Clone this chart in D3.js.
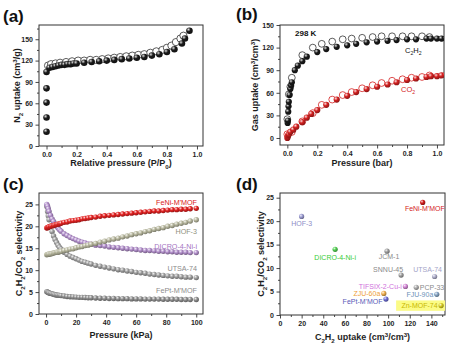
<!DOCTYPE html>
<html><head><meta charset="utf-8">
<script src="https://cdn.jsdelivr.net/npm/d3@7"></script>
<style>body{margin:0;background:#fff}svg{display:block;font-family:"Liberation Sans",Arial,sans-serif}</style>
</head><body><svg id="chart" width="456" height="350"></svg>
<script>
// ---------- DATA ----------
// (a) N2 isotherm
const aAdsP = [0,0,0,0,0,0.02,0.04,0.06,0.08,0.10,0.12,0.14,0.16,0.18,0.20,0.25,0.30,0.35,0.40,0.45,0.50,0.55,0.60,0.65,0.70,0.75,0.80,0.85,0.90,0.92,0.95];
const aAdsQ = [20,40,61,81,104,110,111,112,113,114,114,115,115,116,116,117,118,119,120,121,122,123,124,125,127,129,132,136,144,151,162];
const aDesP = [0.01,0.03,0.06,0.09,0.13,0.17,0.21,0.25,0.29,0.33,0.37,0.41,0.45,0.49,0.53,0.57,0.61,0.65,0.69,0.73,0.77,0.80,0.83,0.86,0.89,0.91];
const aDesQ = [113,115,116,117,118,119,120,120,121,121,122,123,124,125,126,127,128,129,131,133,135,138,141,146,151,155];
const aXTicks = [0,0.2,0.4,0.6,0.8,1.0];
const aYTicks = [0,30,60,90,120,150];

// (b) C2H2 / CO2 isotherms at 298 K
const bC2AdsP = [0.002,0.004,0.006,0.008,0.010,0.015,0.020,0.025,0.030,0.05,0.07,0.10,0.13,0.20,0.26,0.33,0.40,0.46,0.53,0.60,0.67,0.73,0.80,0.86,0.93,0.96,1.00,1.03,1.06];
const bC2AdsQ = [20,23,35,42,48,57,65,70,74,90,96,102,108,114,118,121,123,125,127,128,129,130,131,131,132,132,132,132,132];
const bC2DesP = [0.0,0.01,0.02,0.03,0.10,0.17,0.23,0.30,0.37,0.43,0.50,0.57,0.63,0.70,0.77,0.83,0.90,0.95];
const bC2DesQ = [25,58,68,80,110,120,125,128,131,132,133,134,135,135,135,135,135,134];
const bCO2AdsP = [0.0,0.003,0.006,0.010,0.020,0.040,0.060,0.10,0.13,0.16,0.20,0.26,0.33,0.40,0.46,0.53,0.60,0.67,0.73,0.80,0.86,0.93,0.96,1.00,1.03,1.06];
const bCO2AdsQ = [0,2,4,5,8,11,15,21,27,32,37,44,51,56,61,65,68,71,74,77,79,81,82,82,83,84];
const bCO2DesP = [0.0,0.03,0.10,0.17,0.23,0.30,0.37,0.43,0.50,0.57,0.63,0.70,0.77,0.83,0.90,0.95];
const bCO2DesQ = [5,8,22,33,44,51,57,61,66,70,73,76,78,80,81,83];
const bXTicks = [0,0.2,0.4,0.6,0.8,1.0];
const bYTicks = [0,30,60,90,120,150];

// (c) IAST selectivity vs pressure
const cPressure = [0.5,1,1.5,2,3,4,5,6,7,8,9,10,12,14,16,18,20,22,24,26,28,30,33,36,39,42,45,48,51,54,57,60,63,66,69,72,75,78,81,84,87,90,93,96,100];
const cFeNi  = [19.6,19.7,19.8,19.9,20.0,20.1,20.2,20.3,20.4,20.5,20.6,20.7,20.9,21.0,21.2,21.3,21.4,21.5,21.7,21.8,21.9,22.0,22.1,22.3,22.4,22.5,22.6,22.7,22.8,22.9,23.0,23.1,23.2,23.3,23.4,23.5,23.5,23.6,23.7,23.8,23.8,23.9,23.9,24.0,24.1];
const cHOF3  = [13.5,13.6,13.6,13.7,13.7,13.8,13.9,14.0,14.1,14.1,14.2,14.3,14.5,14.6,14.8,14.9,15.1,15.3,15.4,15.6,15.7,15.9,16.1,16.4,16.6,16.9,17.1,17.3,17.6,17.8,18.1,18.3,18.5,18.8,19.0,19.3,19.5,19.7,20.0,20.2,20.5,20.7,20.9,21.2,21.5];
const cDICRO = [25.0,24.6,24.0,23.4,22.5,21.7,21.1,20.5,20.0,19.6,19.2,18.9,18.3,17.9,17.5,17.2,16.9,16.6,16.4,16.2,16.0,15.9,15.7,15.6,15.5,15.3,15.2,15.1,15.0,14.9,14.8,14.7,14.6,14.5,14.5,14.4,14.3,14.3,14.2,14.2,14.1,14.1,14.1,14.0,14.0];
const cUTSA  = [24.5,23.4,22.4,21.5,20.0,18.8,17.8,17.0,16.3,15.7,15.2,14.8,14.1,13.6,13.2,12.9,12.6,12.3,12.0,11.8,11.6,11.4,11.1,10.9,10.7,10.5,10.3,10.1,10.0,9.8,9.7,9.5,9.4,9.3,9.1,9.0,8.9,8.8,8.7,8.6,8.6,8.5,8.4,8.4,8.3];
const cFePt  = [5.1,5.0,4.9,4.8,4.7,4.6,4.5,4.4,4.35,4.3,4.25,4.2,4.1,4.0,3.95,3.9,3.85,3.8,3.8,3.75,3.7,3.7,3.65,3.6,3.6,3.55,3.55,3.5,3.5,3.5,3.45,3.45,3.45,3.4,3.4,3.4,3.4,3.35,3.35,3.35,3.35,3.3,3.3,3.3,3.3];
const cSeriesNames = ["UTSA-74","FePt-M'MOF","DICRO-4-Ni-i","HOF-3","FeNi-M'MOF"];
const cXTicks = [0,20,40,60,80,100];
const cYTicks = [0,5,10,15,20,25];

// (d) selectivity vs uptake
const dNames = ["HOF-3","DICRO-4-Ni-i","JCM-1","SNNU-45","UTSA-74","TIFSIX-2-Cu-i","PCP-33","ZJU-60a","FJU-90a","FePt-M'MOF","Zn-MOF-74","FeNi-M'MOF"];
const dUptake = [20,51,99,112,143,116,126,96,145,98,149,132];
const dSelect = [21.0,14.0,13.6,8.5,8.2,6.1,5.9,4.6,4.4,3.4,2.0,24.0];
const dXTicks = [0,20,40,60,80,100,120,140];
const dYTicks = [0,5,10,15,20,25];

// ---------- STYLES ----------
const cColors = {"FeNi-M'MOF":"#e42222","HOF-3":"#b9b9a0","DICRO-4-Ni-i":"#b28fcb","UTSA-74":"#a0a0a0","FePt-M'MOF":"#8e8e8e"};
const cLabel = {"FeNi-M'MOF":{c:"#d82020",y:24.9},"HOF-3":{c:"#8f8f7c",y:18.3},"DICRO-4-Ni-i":{c:"#a474bf",y:14.9},"UTSA-74":{c:"#8c8c8c",y:9.8},"FePt-M'MOF":{c:"#8c8c8c",y:4.8}};
const dStyle = {
 "HOF-3":{c:"#9c9cd2",t:"#8d8dc6",dx:0,dy:10,a:"middle"},
 "DICRO-4-Ni-i":{c:"#52d052",t:"#36cc36",dx:0,dy:11,a:"middle"},
 "JCM-1":{c:"#a0a0a0",t:"#8a8a8a",dx:2,dy:8,a:"middle"},
 "SNNU-45":{c:"#a0a0a0",t:"#8a8a8a",dx:-13,dy:-3.5,a:"middle"},
 "UTSA-74":{c:"#b0b0cc",t:"#a4a4c8",dx:-7,dy:-4.5,a:"middle"},
 "TIFSIX-2-Cu-i":{c:"#d68ad8",t:"#d070dc",dx:-3.5,dy:2.4,a:"end"},
 "PCP-33":{c:"#b0b0b0",t:"#8a8a8a",dx:3.5,dy:2.4,a:"start"},
 "ZJU-60a":{c:"#f0b050",t:"#eea038",dx:-3.5,dy:2.4,a:"end"},
 "FJU-90a":{c:"#86a4c4",t:"#6e92b8",dx:-3.5,dy:2.4,a:"end"},
 "FePt-M'MOF":{c:"#6c6cd6",t:"#5a5ab8",dx:-3.5,dy:4.5,a:"end"},
 "Zn-MOF-74":{c:"#d8cc20",t:"#c8b800",dx:-3.5,dy:2.4,a:"end"},
 "FeNi-M'MOF":{c:"#d41c1c",t:"#d41c1c",dx:22,dy:9,a:"end"}
};

// ---------- DRAWING ----------
const svg = d3.select("#chart");
const defs = svg.append("defs");
const gradCache = {};
function sphere(color){
  if (gradCache[color]) return gradCache[color];
  const id = "g" + Object.keys(gradCache).length;
  const base = d3.color(color);
  const rg = defs.append("radialGradient").attr("id", id).attr("cx","35%").attr("cy","32%").attr("r","70%");
  rg.append("stop").attr("offset","0%").attr("stop-color", d3.interpolateRgb(color,"#fff")(0.85));
  rg.append("stop").attr("offset","45%").attr("stop-color", color);
  rg.append("stop").attr("offset","100%").attr("stop-color", base.darker(1.2).formatHex());
  gradCache[color] = "url(#" + id + ")";
  return gradCache[color];
}

// text with sub/superscripts: each tspan's dy moves from the previous shift to its own
function rich(sel, parts, size){
  let prev = 0;
  parts.forEach(p => {
    const shift = p[1] === "sub" ? size*0.28 : p[1] === "sup" ? -size*0.38 : 0;
    const t = sel.append("tspan").text(p[0]);
    if (shift !== prev) t.attr("dy", shift - prev);
    if (p[1]) t.attr("font-size", size*0.68);
    prev = shift;
  });
}

function panel(o){
  const x = d3.scaleLinear().domain(o.xd).range([o.l, o.r]);
  const y = d3.scaleLinear().domain(o.yd).range([o.b, o.t]);
  const g = svg.append("g");
  const style = s => {
    s.select(".domain").remove();
    s.selectAll("line").attr("stroke","#333").attr("stroke-width",0.9);
    s.selectAll("text").attr("fill","#1e1e1e").attr("font-size",7).attr("font-weight","bold");
  };
  g.append("g").attr("transform",`translate(0,${o.b})`).call(d3.axisBottom(x).tickValues(o.xMinor).tickSize(2).tickFormat("")).call(style);
  g.append("g").attr("transform",`translate(0,${o.b})`).call(d3.axisBottom(x).tickValues(o.xTicks).tickSize(3.5).tickPadding(2.5).tickFormat(o.xFmt)).call(style);
  g.append("g").attr("transform",`translate(${o.l},0)`).call(d3.axisLeft(y).tickValues(o.yMinor).tickSize(2).tickFormat("")).call(style);
  g.append("g").attr("transform",`translate(${o.l},0)`).call(d3.axisLeft(y).tickValues(o.yTicks).tickSize(3.5).tickPadding(2.5).tickFormat(d3.format("d"))).call(style);
  g.selectAll("text").filter(function(){ return this.textContent === ""; }).remove();
  g.append("rect").attr("x",o.l).attr("y",o.t).attr("width",o.r-o.l).attr("height",o.b-o.t)
    .attr("fill","none").attr("stroke","#333").attr("stroke-width",1);
  const xt = svg.append("text").attr("x",(o.l+o.r)/2).attr("y",o.xtY).attr("text-anchor","middle")
    .attr("font-size",9).attr("font-weight","bold").attr("fill","#1e1e1e");
  rich(xt, o.xTitle, 9);
  const yt = svg.append("text").attr("transform",`translate(${o.ytX},${(o.t+o.b)/2}) rotate(-90)`).attr("text-anchor","middle")
    .attr("font-size",9).attr("font-weight","bold").attr("fill","#1e1e1e");
  rich(yt, o.yTitle, 9);
  svg.append("text").attr("x",o.lab[0]).attr("y",o.lab[1]).attr("font-size",17).attr("font-weight","bold").attr("fill","#111").text(o.label);
  const clip = "clip" + o.label.replace(/\W/g,"");
  defs.append("clipPath").attr("id",clip).append("rect").attr("x",o.l).attr("y",o.t).attr("width",o.r-o.l).attr("height",o.b-o.t);
  const plot = svg.append("g").attr("clip-path",`url(#${clip})`);
  return {x, y, plot};
}

function dots(p, xs, ys, color, r, open){
  const g = p.plot.append("g");
  g.selectAll("circle").data(xs.map((v,i)=>[v,ys[i]])).join("circle")
    .attr("cx",d=>p.x(d[0])).attr("cy",d=>p.y(d[1])).attr("r",r)
    .attr("fill", open ? "#fff" : sphere(color))
    .attr("stroke", open ? color : "none").attr("stroke-width", open ? 0.8 : 0);
}

const minor = (a,b,s) => d3.range(a,b+1e-9,s);

// (a)
const pa = panel({l:39,r:203,t:25,b:146,xd:[-0.05,1.04],yd:[0,170],
  xTicks:aXTicks,xMinor:minor(0.1,0.9,0.2),yTicks:aYTicks,yMinor:minor(15,165,30),xFmt:d3.format(".1f"),
  xTitle:[["Relative pressure (P/P"],["0","sub"],[")"]],xtY:166,
  yTitle:[["N"],["2","sub"],[" uptake (cm"],["3","sup"],["/g)"]],ytX:20,label:"(a)",lab:[3,22]});
dots(pa, aDesP, aDesQ, "#333", 3.6, true);
dots(pa, aAdsP, aAdsQ, "#1a1a1a", 3.3, false);

// (b)
const pb = panel({l:280,r:444,t:25,b:145,xd:[-0.049,1.047],yd:[-9.3,150],
  xTicks:bXTicks,xMinor:minor(0.1,0.9,0.2),yTicks:bYTicks,yMinor:minor(15,135,30),xFmt:d3.format(".1f"),
  xTitle:[["Pressure (bar)"]],xtY:166,
  yTitle:[["Gas uptake (cm"],["3","sup"],["/cm"],["3","sup"],[")"]],ytX:258,label:"(b)",lab:[236,20]});
dots(pb, bC2DesP, bC2DesQ, "#333", 3.4, true);
dots(pb, bC2AdsP, bC2AdsQ, "#1a1a1a", 3.1, false);
dots(pb, bCO2DesP, bCO2DesQ, "#d42020", 3.4, true);
dots(pb, bCO2AdsP, bCO2AdsQ, "#d42020", 3.1, false);
svg.append("text").attr("x",295).attr("y",36).attr("font-size",8).attr("font-weight","bold").attr("fill","#111").text("298 K");
const tC2 = svg.append("text").attr("x",405).attr("y",53).attr("font-size",7.5).attr("fill","#111");
rich(tC2, [["C"],["2","sub"],["H"],["2","sub"]], 7.5);
const tCO2 = svg.append("text").attr("x",401).attr("y",92).attr("font-size",7.5).attr("fill","#d42020");
rich(tCO2, [["CO"],["2","sub"]], 7.5);

// (c)
const pc = panel({l:39,r:203,t:193,b:314,xd:[-4.7,104.5],yd:[0,27.6],
  xTicks:cXTicks,xMinor:minor(10,90,20),yTicks:cYTicks,yMinor:minor(2.5,22.5,5),xFmt:d3.format("d"),
  xTitle:[["Pressure (kPa)"]],xtY:338,
  yTitle:[["C"],["2","sub"],["H"],["2","sub"],["/CO"],["2","sub"],[" selectivity"]],ytX:22,label:"(c)",lab:[3,190]});
const cData = {"FeNi-M'MOF":cFeNi,"HOF-3":cHOF3,"DICRO-4-Ni-i":cDICRO,"UTSA-74":cUTSA,"FePt-M'MOF":cFePt};
cSeriesNames.forEach(n => dots(pc, cPressure, cData[n], cColors[n], 2.7, false));
cSeriesNames.forEach(n => {
  svg.append("text").attr("x",197).attr("y",pc.y(cLabel[n].y)).attr("text-anchor","end")
    .attr("font-size",7.2).attr("fill",cLabel[n].c).text(n);
});

// (d)
const pd = panel({l:280,r:445,t:193,b:315,xd:[0,152.6],yd:[0,26],
  xTicks:dXTicks,xMinor:minor(10,150,20),yTicks:dYTicks,yMinor:minor(2.5,22.5,5),xFmt:d3.format("d"),
  xTitle:[["C"],["2","sub"],["H"],["2","sub"],[" uptake (cm"],["3","sup"],["/cm"],["3","sup"],[")"]],xtY:340,
  yTitle:[["C"],["2","sub"],["H"],["2","sub"],["/CO"],["2","sub"],[" selectivity"]],ytX:264,label:"(d)",lab:[236,190]});
{
  const i = dNames.indexOf("Zn-MOF-74");
  const px = pd.x(dUptake[i]), py = pd.y(dSelect[i]);
  svg.append("rect").attr("x",px-45).attr("y",py-5.2).attr("width",49).attr("height",10.4).attr("fill","#fbfb86");
}
dNames.forEach((n,i) => {
  const s = dStyle[n];
  const px = pd.x(dUptake[i]), py = pd.y(dSelect[i]);
  svg.append("circle").attr("cx",px).attr("cy",py).attr("r",2.6).attr("fill",sphere(s.c));
  svg.append("text").attr("x",px+s.dx).attr("y",py+s.dy).attr("text-anchor",s.a)
    .attr("font-size",7).attr("fill",s.t).text(n);
});
</script></body></html>
